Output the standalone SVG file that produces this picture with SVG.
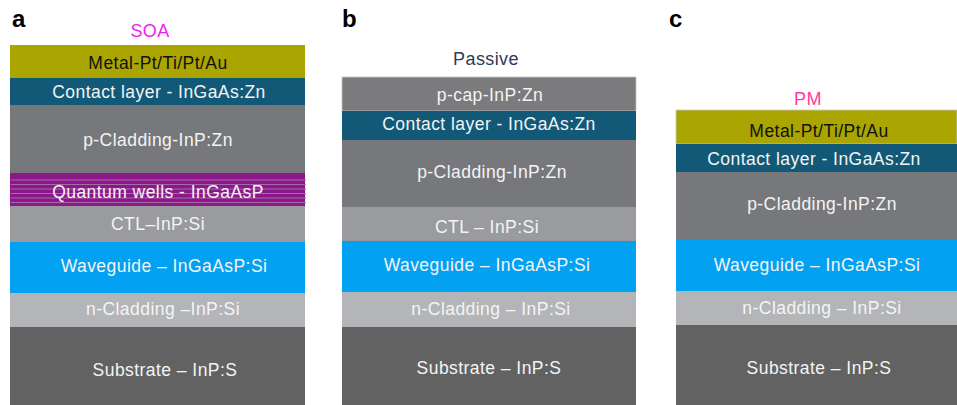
<svg xmlns="http://www.w3.org/2000/svg" width="957" height="405" viewBox="0 0 957 405">
<style>
text{font-family:"Liberation Sans",Arial,sans-serif;text-anchor:middle}
.t{font-size:17.5px;fill:#f4f4f4;letter-spacing:0.45px}
.k{font-size:17.5px;fill:#111;letter-spacing:0.45px}
.lbl{font-size:24px;font-weight:bold;fill:#000;text-anchor:start}
.metal{fill:#aaa500}
.contact{fill:#125977}
.pclad{fill:#77787c}
.pcap{fill:#7b7b7d}
.ctl{fill:#9a9b9e}
.wg{fill:#03a1f2}
.nclad{fill:#b4b5b8}
.sub{fill:#626262}
.qw{fill:#8a1888}
.ql{stroke:#a86aa8;stroke-width:1}
</style>
<rect width="957" height="405" fill="#fff"/>
<g id="labels">
<text class="lbl" x="12" y="27">a</text>
<text class="lbl" x="342" y="27">b</text>
<text class="lbl" x="669" y="27">c</text>
<text x="150" y="37" style="font-size:18px;fill:#f01ef0;letter-spacing:0.4px">SOA</text>
<text x="486" y="65" style="font-size:18px;fill:#2e3a5c;letter-spacing:0.4px">Passive</text>
<text x="808" y="105" style="font-size:18px;fill:#ff3c9e;letter-spacing:0.4px">PM</text>
</g>
<g id="panel-a">
<g id="a-metal"><rect class="metal" x="10" y="45" width="295" height="33"/><text class="k" x="158" y="69">Metal-Pt/Ti/Pt/Au</text></g>
<g id="a-contact"><rect class="contact" x="10" y="78" width="295" height="27"/><text class="t" x="159" y="98">Contact layer - InGaAs:Zn</text></g>
<g id="a-pclad"><rect class="pclad" x="10" y="105" width="295" height="68"/><text class="t" x="158" y="146">p-Cladding-InP:Zn</text></g>
<g id="a-qw"><rect class="qw" x="10" y="173" width="295" height="33"/>
<line class="ql" x1="11" y1="180" x2="306" y2="180"/>
<line class="ql" x1="11" y1="184.5" x2="306" y2="184.5"/>
<line class="ql" x1="11" y1="189" x2="306" y2="189"/>
<line class="ql" x1="11" y1="193.5" x2="306" y2="193.5"/>
<line class="ql" x1="11" y1="198" x2="306" y2="198"/>
<line class="ql" x1="11" y1="202.5" x2="306" y2="202.5"/>
<text class="t" x="158" y="198">Quantum wells - InGaAsP</text></g>
<g id="a-ctl"><rect class="ctl" x="10" y="206" width="295" height="36"/><text class="t" x="158" y="230">CTL–InP:Si</text></g>
<g id="a-wg"><rect class="wg" x="10" y="242" width="295" height="51"/><text class="t" x="164" y="272">Waveguide – InGaAsP:Si</text></g>
<g id="a-nclad"><rect class="nclad" x="10" y="293" width="295" height="34"/><text class="t" x="163" y="315">n-Cladding –InP:Si</text></g>
<g id="a-sub"><rect class="sub" x="10" y="327" width="295" height="78"/><text class="t" x="165" y="376">Substrate – InP:S</text></g>
</g>
<g id="panel-b">
<g id="b-pcap"><rect class="pcap" x="342" y="77" width="294" height="34" stroke="#c8c8c8" stroke-width="0.8"/><text class="t" x="490" y="101">p-cap-InP:Zn</text></g>
<g id="b-contact"><rect class="contact" x="342" y="111" width="294" height="29"/><text class="t" x="489" y="130">Contact layer - InGaAs:Zn</text></g>
<g id="b-pclad"><rect class="pclad" x="342" y="140" width="294" height="67"/><text class="t" x="492" y="178">p-Cladding-InP:Zn</text></g>
<g id="b-ctl"><rect class="ctl" x="342" y="207" width="294" height="34"/><text class="t" x="487" y="233">CTL – InP:Si</text></g>
<g id="b-wg"><rect class="wg" x="342" y="241" width="294" height="51"/><text class="t" x="487" y="271">Waveguide – InGaAsP:Si</text></g>
<g id="b-nclad"><rect class="nclad" x="342" y="292" width="294" height="35"/><text class="t" x="491" y="315">n-Cladding – InP:Si</text></g>
<g id="b-sub"><rect class="sub" x="342" y="327" width="294" height="78"/><text class="t" x="489" y="374">Substrate – InP:S</text></g>
</g>
<g id="panel-c">
<g id="c-metal"><rect class="metal" x="676" y="110" width="281" height="34" stroke="#c8c8c8" stroke-width="0.8"/><text class="k" x="819" y="137">Metal-Pt/Ti/Pt/Au</text></g>
<g id="c-contact"><rect class="contact" x="676" y="144" width="281" height="28"/><text class="t" x="814" y="165">Contact layer - InGaAs:Zn</text></g>
<g id="c-pclad"><rect class="pclad" x="676" y="172" width="281" height="68"/><text class="t" x="822" y="210">p-Cladding-InP:Zn</text></g>
<g id="c-wg"><rect class="wg" x="676" y="240" width="281" height="51"/><text class="t" x="817" y="271">Waveguide – InGaAsP:Si</text></g>
<g id="c-nclad"><rect class="nclad" x="676" y="291" width="281" height="34"/><text class="t" x="822" y="314">n-Cladding – InP:Si</text></g>
<g id="c-sub"><rect class="sub" x="676" y="325" width="281" height="80"/><text class="t" x="819" y="374">Substrate – InP:S</text></g>
</g>
<g id="connectors"/>
</svg>
